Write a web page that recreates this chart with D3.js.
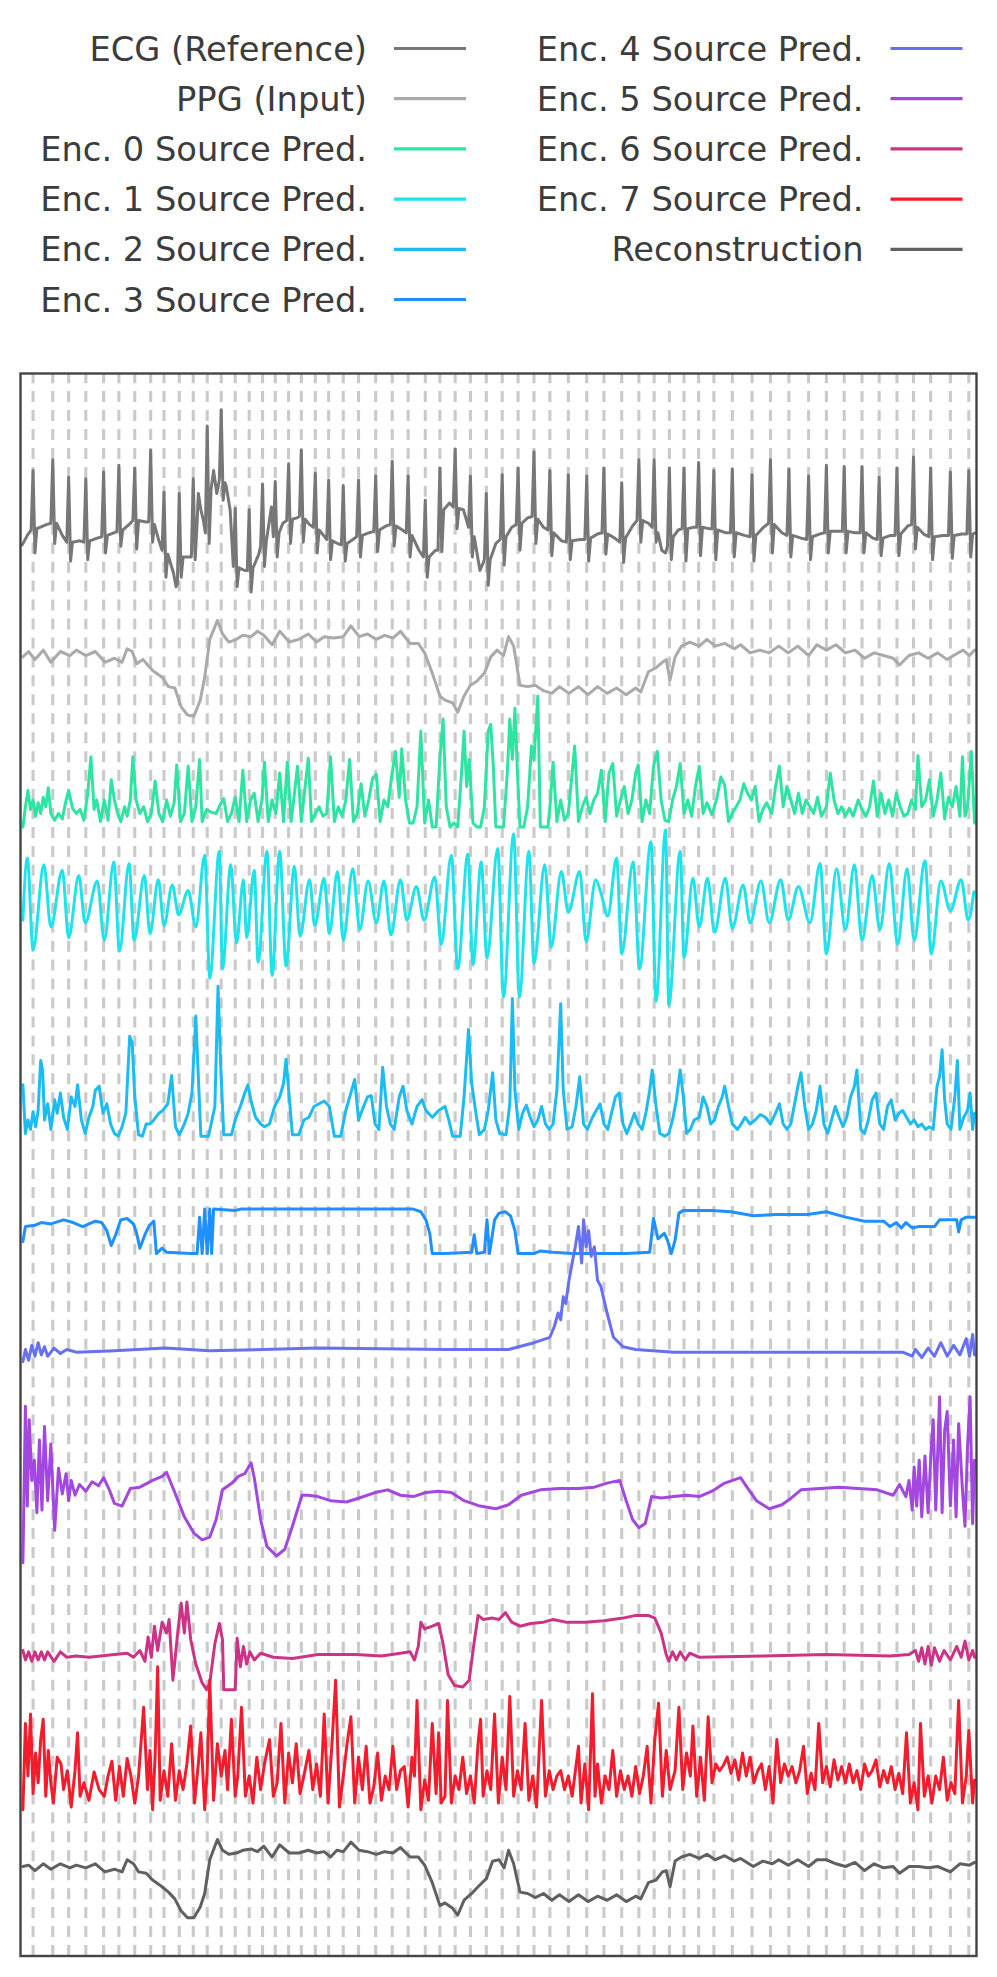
<!DOCTYPE html>
<html>
<head>
<meta charset="utf-8">
<script src="https://cdn.jsdelivr.net/npm/d3@7"></script>
<style>
  body { margin: 0; background: #fff; }
  text { font-family: "DejaVu Sans", sans-serif; }
</style>
</head>
<body>
<div id="chart"></div>
<script>
// samples at 50 Hz, 30 s window; values in normalised units, 100 units between traces
const labels = ["ECG (Reference)", "PPG (Input)", "Enc. 0 Source Pred.", "Enc. 1 Source Pred.",
  "Enc. 2 Source Pred.", "Enc. 3 Source Pred.", "Enc. 4 Source Pred.", "Enc. 5 Source Pred.",
  "Enc. 6 Source Pred.", "Enc. 7 Source Pred.", "Reconstruction"];
const colors = ["#777777", "#aaaaaa", "#2de5a0", "#1ee3ea", "#1cbcf2", "#1e90ff",
  "#6670f0", "#a347e1", "#cc3386", "#f31c2c", "#606060"];

// R-peak sample indices (dashed guides)
const rPeaks = [17, 48, 73, 100, 128, 152, 177, 202, 223, 247, 269, 291, 313, 335, 357, 378, 398, 419, 439, 461,
  482, 505, 529, 556, 582, 607, 634, 657, 681, 705, 730, 755, 780, 805, 830, 859, 888, 915, 943, 970, 994,
  1018, 1041, 1064, 1088, 1117, 1148, 1177, 1206, 1237, 1265, 1293, 1321, 1348, 1376, 1402, 1429, 1460, 1489];

const ecg = [[0,-11],[8,-4],
[14,0],[17,44],[20,-17],[23,1],[38,4],[45,5],[48,52],[51,-10],[54,5],
[63,-4],[70,-9],[73,39],[76,-23],[79,-9],[90,-8],[97,-9],[100,38],[103,-22],[106,-8],
[118,-6],[125,-5],[128,43],[131,-17],[134,-4],[145,-2],[149,-1],[152,48],[155,-12],[158,0],
[170,5],[174,7],[177,46],[180,-14],[183,7],[195,6],[199,6],[202,59],[205,-9],[208,4],
[215,-8],[220,-15],[223,28],[226,-35],[229,-18],[238,-32],[242,-42],[244,-40],[247,27],[250,-35],[253,-20],
[262,-20],[266,-20],[269,38],[272,-22],[275,5],[277,27],[281,15],[285,7],
[288,-2],[291,77],[294,-10],[297,30],[301,44],[306,27],
[310,37],[313,89],[316,22],[319,35],[321,32],[327,15],
[332,-27],[335,16],[338,-42],[341,-28],[350,-30],[354,-30],[357,15],[360,-46],[363,-28],[372,-18],
[375,-12],[378,34],[381,-27],[384,-8],[392,17],[395,-5],[398,36],[401,-20],[404,-2],[410,5],
[416,7],[419,49],[422,-10],[425,8],[432,9],[436,10],[439,59],[442,-9],[445,8],[452,4],
[458,2],[461,42],[464,-17],[467,0],[474,-4],[479,-7],[482,37],[485,-22],[488,-8],[496,-10],
[502,-11],[505,33],[508,-23],[511,-10],[520,-7],[526,-5],[529,37],[532,-20],[535,-4],[546,-2],
[553,-1],[556,40],[559,-16],[562,0],[572,3],[579,4],[582,51],[585,-12],[588,3],[598,0],
[604,-2],[607,40],[610,-20],[613,-4],[624,-15],[631,-20],[634,22],[637,-35],[640,-20],[650,-15],
[654,-15],[657,46],[660,-16],[663,15],[672,20],[678,17],[681,60],[684,1],[687,16],[694,15],
[702,2],[705,40],[708,-20],[711,-5],[720,-30],[727,-22],[730,27],[733,-41],[736,-22],[745,-10],
[752,-7],[755,41],[758,-26],[761,-5],[770,2],[777,4],[780,46],[783,-15],[786,5],[795,9],
[802,10],[805,58],[808,-10],[811,8],[820,2],[827,0],[830,44],[833,-19],[836,-2],[848,-8],
[856,-9],[859,41],[862,-22],[865,-8],[878,-7],[885,-7],[888,40],[891,-23],[894,-6],[905,-3],
[912,-2],[915,46],[918,-18],[921,-3],[932,-6],[940,-9],[943,35],[946,-24],[949,-6],[960,3],
[967,7],[970,52],[973,-9],[976,7],[985,5],[991,2],[994,52],[997,-9],[1000,-2],[1006,-15],[1012,-17],
[1015,-12],[1018,46],[1021,-22],[1024,-5],[1032,0],[1038,1],[1041,46],[1044,-23],[1047,1],[1056,2],
[1061,2],[1064,50],[1067,-19],[1070,2],[1080,1],[1085,1],[1088,44],[1091,-22],[1094,0],[1106,-2],
[1114,-2],[1117,45],[1120,-20],[1123,-2],[1136,-4],[1145,-5],[1148,41],[1151,-23],[1154,-4],[1166,2],
[1174,5],[1177,52],[1180,-17],[1183,4],[1195,-2],[1203,-4],[1206,45],[1209,-20],[1212,-4],[1225,-6],
[1234,-7],[1237,40],[1240,-22],[1243,-5],[1254,-3],[1262,-2],[1265,48],[1268,-17],[1271,-1],[1282,-1],
[1290,-1],[1293,47],[1296,-17],[1299,-1],[1310,-2],[1318,-2],[1321,47],[1324,-17],[1327,-2],[1338,-6],
[1345,-7],[1348,39],[1351,-19],[1354,-6],[1366,-4],[1373,-4],[1376,46],[1379,-19],[1382,-3],[1393,3],
[1399,4],[1402,54],[1405,-14],[1408,2],[1418,-3],[1426,-5],[1429,46],[1432,-22],[1435,-5],[1448,-4],
[1457,-4],[1460,43],[1463,-21],[1466,-4],[1478,-3],[1486,-3],[1489,44],[1492,-20],[1495,-3],[1500,-2]];

const ppg = [[1,6],[10,10],[20,4],[33,11],[45,2],[60,10],[75,7],[85,11],[100,7],[115,10],[130,2],[145,5],
[157,2],[165,12],[173,10],[180,1],[190,4],[205,-4],[220,-9],[230,-16],[240,-17],[250,-31],[260,-37],
[270,-38],[280,-26],[287,-9],[295,19],[307,33],[315,23],[325,17],[337,19],[347,22],[360,21],[370,25],
[380,22],[393,15],[405,25],[420,17],[435,19],[450,23],[463,17],[475,21],[490,20],[505,21],[517,29],
[530,21],[543,23],[557,19],[570,22],[583,20],[595,25],[610,16],[623,16],[633,9],[645,-6],[657,-23],
[665,-26],[677,-28],[685,-35],[695,-23],[705,-15],[715,-12],[727,-6],[737,6],[747,11],[757,7],[765,21],
[773,14],[783,-15],[795,-16],[807,-15],[820,-19],[833,-21],[845,-16],[860,-21],[875,-16],[890,-22],
[905,-16],[920,-21],[935,-17],[950,-22],[965,-17],[973,-20],[985,-5],[997,-2],[1007,2],[1013,4],
[1019,-11],[1027,6],[1037,14],[1050,17],[1065,14],[1077,19],[1090,14],[1105,16],[1120,12],[1130,15],
[1145,9],[1160,11],[1175,9],[1190,14],[1205,9],[1220,14],[1237,7],[1250,15],[1265,11],[1280,15],
[1295,9],[1310,11],[1325,5],[1340,9],[1355,7],[1370,5],[1380,0],[1395,7],[1410,9],[1425,5],[1440,9],
[1455,4],[1465,7],[1480,11],[1490,7],[1498,11]];

const enc0 = [[1,-20],[5,-5],[9,7],[13,-7],[17,0],[21,-12],[25,-2],[29,-10],[33,2],[37,-5],[41,9],[45,-10],
[51,-15],[57,-10],[63,-14],[69,0],[73,7],[79,-6],[85,-10],[91,-7],[97,-15],[103,5],[108,32],[113,-7],
[117,0],[123,-16],[129,0],[135,-15],[140,15],[145,0],[150,-10],[155,-16],[161,-5],[165,-12],[170,0],
[174,32],[179,0],[185,-10],[191,-5],[197,-16],[203,-10],[209,14],[215,-10],[221,-16],[227,0],[233,-12],
[239,-2],[243,26],[249,-16],[255,-10],[261,25],[267,-16],[273,-5],[279,30],[283,-16],[290,-7],[297,-9],
[305,-10],[313,-2],[317,1],[323,-16],[329,-10],[335,2],[341,-16],[347,22],[353,-16],[359,0],[365,5],
[371,-16],[377,0],[381,28],[387,-16],[393,0],[399,-10],[405,20],[411,-16],[417,28],[423,-16],[427,0],
[433,25],[439,-16],[445,10],[450,31],[455,-16],[461,-10],[467,-5],[473,-12],[479,-10],[485,32],[491,-16],
[497,-5],[503,-12],[509,0],[515,30],[521,-16],[527,-10],[533,12],[539,-12],[545,0],[551,16],[557,19],
[563,-16],[569,0],[575,-5],[581,17],[587,36],[593,2],[597,38],[603,0],[609,-17],[615,-17],[621,-5],
[627,51],[633,-17],[639,0],[645,-20],[651,-20],[657,31],[662,60],[667,-5],[673,-20],[679,-17],[685,-20],
[691,20],[695,51],[699,10],[703,30],[709,-17],[715,-20],[721,-20],[727,-5],[733,51],[737,56],[741,25],
[745,-20],[751,-20],[757,-20],[763,20],[767,60],[771,30],[775,68],[779,20],[783,-20],[789,-20],[795,-5],
[801,40],[805,30],[811,77],[815,-20],[821,-20],[827,-20],[831,0],[835,28],[841,-16],[847,0],[853,-15],
[859,-10],[863,10],[869,40],[875,-16],[881,-5],[887,2],[893,-10],[899,0],[905,5],[911,22],[917,-16],
[923,20],[929,27],[935,-12],[941,0],[947,10],[953,-10],[959,0],[965,20],[969,26],[975,-16],[981,0],
[987,-10],[993,25],[999,36],[1005,0],[1011,-15],[1017,-16],[1023,0],[1029,10],[1035,27],[1041,-10],
[1047,0],[1053,-12],[1059,10],[1065,25],[1071,-10],[1077,-2],[1085,-11],[1093,2],[1099,17],[1105,11],
[1111,-16],[1117,-10],[1123,-5],[1129,0],[1135,12],[1141,5],[1147,0],[1153,10],[1159,-16],[1165,-7],
[1171,-2],[1179,-10],[1185,10],[1191,25],[1197,-5],[1203,10],[1209,0],[1215,-10],[1221,5],[1227,-10],
[1233,0],[1239,-5],[1245,-10],[1251,2],[1257,-12],[1265,-5],[1271,20],[1277,0],[1283,-10],[1289,-5],
[1295,-12],[1301,-6],[1307,-12],[1315,0],[1321,-7],[1327,-12],[1333,-5],[1339,14],[1345,-12],[1351,5],
[1357,-10],[1363,0],[1369,-12],[1375,5],[1381,-5],[1387,-12],[1393,-10],[1399,0],[1405,-7],[1409,33],
[1415,-5],[1421,0],[1427,15],[1433,-12],[1439,0],[1445,20],[1451,-14],[1457,2],[1463,-5],[1469,10],
[1475,-12],[1479,32],[1483,-12],[1487,-5],[1493,36],[1498,-17]];

const enc1 = [[1,11],[8,57],[17,-11],[34,52],[45,6],[63,48],[73,-2],[89,44],[99,9],[118,40],[129,-4],
[144,54],[153,-12],[168,53],[176,-4],[192,44],[201,1],[214,41],[223,7],[236,37],[246,15],[261,33],
[273,6],[287,59],[295,-32],[310,62],[315,-25],[328,52],[337,-6],[348,41],[353,-2],[365,48],[371,-20],
[385,62],[393,-30],[405,62],[415,-23],[428,51],[437,-1],[452,41],[460,7],[475,42],[483,1],[496,47],
[505,-4],[520,49],[531,4],[544,40],[557,9],[569,40],[580,0],[595,41],[605,11],[620,36],[632,11],
[649,43],[659,-7],[675,59],[685,-25],[701,60],[709,-22],[722,54],[731,-17],[748,64],[757,-46],[773,75],
[782,-46],[797,62],[805,-21],[822,52],[832,-9],[848,47],[859,17],[877,47],[887,-5],[902,41],[911,30],
[921,14],[935,57],[943,-14],[961,54],[971,-25],[989,69],[997,-49],[1012,78],[1017,-52],[1035,62],
[1041,-17],[1055,42],[1065,6],[1078,42],[1089,2],[1106,42],[1117,5],[1134,37],[1145,9],[1162,40],
[1175,9],[1193,41],[1205,11],[1221,36],[1239,9],[1255,53],[1265,-14],[1281,49],[1295,4],[1309,52],
[1321,-4],[1337,44],[1349,4],[1364,53],[1377,-7],[1392,49],[1403,-4],[1420,55],[1430,-14],[1445,40],
[1460,18],[1477,41],[1488,11],[1497,32]];

const enc2 = [[1,-11],[5,-47],[9,-37],[13,-44],[17,-31],[21,-42],[25,-30],[29,7],[32,0],[35,-37],[40,-25],
[45,-44],[51,-22],[55,-32],[60,-17],[65,-35],[71,-44],[77,-20],[83,-27],[87,-11],[93,-37],[99,-47],
[105,-35],[111,-27],[115,-15],[121,-12],[127,-32],[133,-25],[139,-40],[145,-47],[151,-49],[157,-42],
[163,-32],[169,25],[173,20],[177,-20],[183,-48],[189,-49],[195,-40],[201,-40],[207,-37],[215,-32],
[221,-30],[229,-25],[235,-4],[241,-42],[247,-48],[255,-40],[261,-32],[267,-17],[273,40],[277,-5],
[281,-49],[293,-49],[303,-27],[308,62],[312,5],[317,-48],[329,-48],[335,-37],[343,-27],[350,-17],
[355,-11],[361,-25],[367,-35],[375,-40],[381,-42],[389,-40],[397,-27],[405,-20],[411,-10],[415,8],
[420,-20],[425,-48],[435,-48],[443,-37],[451,-35],[459,-27],[467,-25],[475,-23],[483,-27],[491,-49],
[501,-49],[509,-30],[517,-17],[523,-7],[529,-37],[537,-27],[543,-20],[549,-19],[555,-40],[561,-44],
[567,2],[573,-27],[579,-40],[585,-44],[593,-20],[599,-12],[605,-30],[613,-40],[621,-27],[629,-22],
[635,-30],[645,-35],[655,-30],[665,-27],[671,-37],[677,-49],[689,-49],[695,-20],[702,30],[707,-10],
[713,-30],[719,-48],[727,-44],[733,-30],[740,-2],[745,-37],[751,-47],[761,-48],[767,-25],[771,53],
[775,-15],[781,-44],[787,-32],[793,-26],[799,-35],[805,-42],[811,-37],[817,-27],[823,-40],[829,-44],
[835,-40],[841,-15],[847,49],[851,-15],[857,-44],[865,-42],[871,-27],[877,-5],[883,-40],[889,-44],
[897,-35],[903,-30],[909,-25],[915,-40],[921,-44],[927,-32],[933,-20],[939,-17],[945,-40],[951,-47],
[957,-40],[963,-32],[969,-40],[975,-44],[981,-32],[987,-15],[991,0],[997,-27],[1003,-47],[1011,-49],
[1017,-47],[1023,-37],[1029,-22],[1035,0],[1040,-20],[1045,-47],[1051,-44],[1057,-37],[1065,-35],
[1071,-20],[1077,-27],[1083,-40],[1089,-37],[1095,-27],[1101,-20],[1105,-12],[1111,-27],[1117,-40],
[1125,-44],[1131,-40],[1137,-35],[1145,-40],[1153,-37],[1161,-33],[1169,-35],[1177,-40],[1185,-32],
[1191,-25],[1197,-40],[1203,-44],[1209,-40],[1215,-25],[1221,-10],[1225,-2],[1231,-27],[1237,-44],
[1243,-40],[1249,-30],[1255,-12],[1261,-40],[1267,-47],[1273,-37],[1279,-27],[1285,-35],[1291,-42],
[1297,-35],[1303,-20],[1309,-12],[1313,0],[1319,-44],[1325,-47],[1331,-37],[1337,-22],[1343,-17],
[1349,-40],[1355,-44],[1361,-27],[1367,-22],[1373,-37],[1379,-32],[1385,-30],[1391,-35],[1397,-40],
[1403,-37],[1409,-42],[1415,-40],[1421,-44],[1427,-42],[1433,-44],[1439,-12],[1443,-5],[1447,15],
[1451,-22],[1455,-40],[1461,-44],[1467,-20],[1471,7],[1475,-44],[1481,-35],[1487,-30],[1491,-17],
[1495,-44],[1498,-32]];

const enc3 = [[1,-27],[5,-16],[20,-15],[30,-13],[45,-14],[65,-11],[80,-13],[95,-16],[115,-12],[125,-13],
[133,-19],[140,-30],[147,-22],[155,-11],[165,-10],[175,-14],[180,-21],[185,-32],[193,-22],[200,-15],
[207,-12],[211,-36],[220,-32],[227,-35],[265,-36],[275,-36],[279,-9],[283,-36],[287,-3],[291,-36],
[295,-3],[298,-36],[301,-3],[335,-4],[345,-3],[465,-3],[615,-3],[627,-5],[635,-11],[641,-21],[645,-36],
[665,-36],[707,-35],[711,-22],[715,-36],[727,-35],[731,-11],[735,-36],[743,-11],[750,-6],[760,-5],
[768,-8],[775,-19],[780,-36],[805,-36],[815,-34],[835,-35],[865,-36],[950,-36],[987,-35],[993,-10],
[1000,-25],[1010,-21],[1015,-26],[1021,-36],[1027,-26],[1033,-6],[1040,-4],[1085,-4],[1115,-5],
[1150,-8],[1185,-7],[1235,-7],[1265,-5],[1295,-9],[1325,-12],[1355,-12],[1365,-16],[1375,-13],
[1383,-17],[1390,-13],[1400,-17],[1410,-16],[1435,-16],[1443,-11],[1455,-11],[1470,-11],[1473,-20],
[1477,-11],[1485,-9],[1498,-9]];

const enc4 = [[1,-16],[5,-7],[10,-15],[15,-4],[20,-12],[25,-2],[30,-11],[35,-5],[40,-12],[50,-6],[60,-10],
[70,-7],[85,-9],[145,-8],[225,-6],[295,-8],[465,-6],[665,-7],[765,-7],[805,-2],[830,2],[837,10],[843,20],
[847,15],[851,32],[855,27],[860,44],[865,57],[870,69],[875,84],[880,57],[883,89],[887,69],[891,81],
[895,62],[900,69],[905,44],[910,40],[920,20],[930,2],[945,-5],[965,-7],[1025,-9],[1165,-9],[1385,-9],
[1400,-12],[1405,-7],[1415,-13],[1425,-6],[1435,-12],[1445,-2],[1455,-12],[1465,-4],[1475,-11],
[1485,1],[1490,-12],[1495,4],[1498,-11]];

const enc5 = [[1,-65],[5,51],[8,-23],[11,41],[15,-4],[19,11],[23,-28],[27,26],[31,-26],[35,36],[40,-19],
[45,23],[51,-41],[57,5],[63,-14],[69,1],[73,-19],[77,-4],[83,-15],[90,-7],[100,-12],[110,-5],[120,-8],
[128,-2],[137,-11],[145,-21],[157,-23],[170,-10],[185,-9],[205,-4],[220,-1],[227,2],[240,-13],[255,-31],
[270,-43],[283,-48],[295,-46],[305,-33],[315,-11],[330,-6],[340,-1],[350,1],[360,9],[365,-2],[375,-33],
[385,-53],[400,-60],[413,-55],[425,-38],[440,-15],[450,-15],[465,-16],[485,-19],[510,-20],[530,-17],
[555,-13],[575,-11],[595,-15],[615,-16],[635,-13],[655,-12],[675,-13],[695,-19],[720,-23],[745,-25],
[765,-22],[785,-15],[815,-11],[845,-10],[875,-10],[900,-9],[920,-6],[940,-4],[950,-19],[960,-33],
[970,-39],[980,-36],[990,-16],[1005,-17],[1025,-16],[1045,-15],[1065,-16],[1085,-12],[1105,-6],
[1130,-2],[1140,-9],[1155,-19],[1175,-25],[1195,-22],[1210,-17],[1225,-11],[1255,-10],[1285,-9],
[1315,-10],[1345,-11],[1370,-15],[1380,-7],[1390,-16],[1395,-4],[1400,-26],[1403,6],[1407,-23],
[1411,11],[1415,-31],[1420,14],[1425,-28],[1430,21],[1433,41],[1437,-26],[1443,58],[1447,-28],
[1451,33],[1455,47],[1460,-23],[1465,26],[1469,-31],[1473,38],[1479,-11],[1483,-38],[1487,21],
[1491,58],[1495,-36],[1498,11]];

const enc6 = [[1,-30],[5,-37],[10,-31],[15,-38],[20,-31],[25,-37],[30,-31],[35,-37],[40,-31],[50,-38],
[60,-31],[70,-35],[85,-34],[105,-35],[145,-33],[165,-32],[175,-35],[185,-30],[193,-38],[198,-20],
[203,-35],[208,-12],[213,-30],[220,-9],[227,-17],[231,-7],[237,-52],[245,-15],[250,5],[255,-17],
[259,6],[265,-22],[273,-40],[283,-54],[290,-59],[295,-54],[303,-25],[310,-10],[315,-22],[317,-59],
[335,-59],[338,-21],[343,-42],[348,-27],[353,-40],[358,-31],[365,-37],[375,-32],[395,-35],[425,-36],
[465,-33],[525,-33],[565,-34],[595,-32],[610,-31],[617,-37],[623,-27],[627,-9],[633,-14],[645,-12],
[655,-10],[662,-25],[670,-48],[680,-56],[693,-57],[703,-52],[710,-27],[717,-4],[725,-7],[740,-6],
[750,-7],[760,-2],[770,-9],[783,-12],[800,-10],[820,-9],[835,-7],[855,-9],[885,-9],[915,-8],[945,-6],
[965,-4],[985,-4],[995,-6],[1005,-17],[1013,-33],[1017,-38],[1023,-31],[1029,-37],[1035,-31],
[1043,-37],[1050,-32],[1065,-35],[1165,-34],[1265,-33],[1365,-34],[1395,-33],[1405,-30],[1410,-38],
[1415,-28],[1420,-40],[1425,-27],[1430,-41],[1435,-28],[1443,-38],[1450,-30],[1460,-37],[1470,-27],
[1477,-35],[1483,-23],[1489,-37],[1495,-30],[1498,-35]];

const enc7 = [[1,-48],[5,16],[9,-23],[13,23],[17,-36],[21,-6],[25,-28],[29,4],[33,19],[37,-38],[41,-4],
[45,-28],[49,-43],[55,-9],[61,-14],[65,-33],[71,-19],[77,-46],[83,-19],[87,9],[91,-38],[97,-28],
[105,-41],[113,-20],[121,-33],[129,-38],[135,-23],[141,-12],[147,-41],[153,-16],[159,-38],[165,-10],
[171,-23],[177,-43],[183,-23],[191,28],[197,-33],[201,-4],[205,-48],[209,-9],[213,58],[217,-41],
[223,-19],[229,-38],[235,1],[241,-41],[247,-19],[253,-33],[259,-14],[265,14],[271,-43],[277,-14],
[281,9],[287,-48],[291,-19],[295,48],[301,-41],[307,1],[313,-23],[319,-4],[323,-33],[329,19],[335,-38],
[339,-23],[345,28],[351,-38],[357,-23],[363,-43],[369,-9],[375,-33],[381,-14],[389,4],[395,-38],
[401,-28],[407,16],[413,-43],[419,-6],[425,-28],[431,1],[437,-36],[443,-23],[451,-4],[457,-33],
[463,-14],[469,-38],[475,23],[481,-43],[487,-1],[493,48],[499,-46],[505,-23],[511,1],[517,21],[523,-43],
[529,-9],[535,-33],[541,-1],[547,-43],[553,-31],[559,-6],[565,-41],[571,-23],[577,-33],[583,-1],
[589,-33],[595,-19],[601,-16],[607,-46],[613,-9],[617,-23],[621,33],[627,-48],[633,-26],[639,-41],
[645,16],[651,-36],[655,9],[659,-43],[665,-38],[669,33],[675,-43],[681,-23],[687,-33],[693,-9],
[699,-36],[705,-23],[711,-43],[717,1],[721,19],[725,-38],[731,-19],[737,-33],[743,23],[749,-43],
[755,-9],[761,-33],[767,36],[773,-38],[779,-19],[785,-33],[791,16],[797,-41],[803,-23],[809,-46],
[817,33],[823,-38],[829,-19],[835,-33],[841,-23],[847,-19],[853,-33],[859,-23],[865,-38],[871,-16],
[875,-1],[879,-43],[885,-14],[891,-48],[897,38],[901,-38],[905,-14],[911,-43],[917,-23],[923,-33],
[929,-4],[935,-38],[941,-19],[947,-33],[953,-23],[959,-38],[965,-16],[971,-36],[977,-23],[983,-1],
[989,-43],[995,4],[1001,31],[1007,-38],[1013,-4],[1019,-33],[1027,-19],[1033,28],[1039,-33],[1045,-6],
[1051,-23],[1055,14],[1061,-38],[1067,-9],[1073,-41],[1079,21],[1085,-28],[1091,-14],[1097,-19],
[1103,-15],[1109,-9],[1115,-21],[1121,-11],[1127,-26],[1133,-6],[1139,-23],[1145,-9],[1151,-28],
[1157,-19],[1163,-14],[1169,-33],[1175,-16],[1181,-43],[1187,4],[1193,-28],[1199,-14],[1205,-23],
[1211,-16],[1217,-28],[1223,-19],[1229,-1],[1235,-36],[1241,-21],[1247,-33],[1253,16],[1259,-28],
[1265,-16],[1271,-31],[1277,-11],[1283,-26],[1289,-16],[1295,-28],[1301,-14],[1307,-28],[1313,-19],
[1319,-33],[1325,-14],[1331,-23],[1337,-19],[1343,-11],[1349,-31],[1355,-19],[1361,-28],[1367,-16],
[1373,-33],[1379,-21],[1385,-36],[1391,9],[1397,-43],[1403,-28],[1409,-48],[1413,16],[1419,-38],
[1425,-23],[1431,-43],[1437,-23],[1443,-33],[1449,-9],[1455,-41],[1461,-28],[1467,-36],[1473,33],
[1479,-43],[1485,-23],[1489,11],[1495,-43],[1498,-26]];

const recon = [[1,10],[10,11],[20,7],[33,12],[45,8],[60,12],[75,9],[85,11],[100,9],[115,12],[130,6],[145,8],
[157,6],[165,15],[175,12],[183,6],[195,5],[205,0],[220,-5],[230,-9],[240,-14],[250,-23],[260,-28],
[270,-28],[280,-20],[287,-10],[295,15],[307,30],[315,22],[325,19],[337,20],[347,22],[360,23],[370,21],
[380,25],[393,17],[405,26],[420,20],[435,20],[450,22],[463,20],[475,21],[485,17],[495,22],[505,21],
[517,28],[530,22],[543,21],[557,19],[570,21],[583,20],[595,24],[610,17],[623,17],[633,11],[645,-2],
[657,-19],[665,-17],[677,-21],[685,-26],[695,-15],[707,-10],[717,-5],[730,1],[740,14],[750,15],[758,9],
[765,22],[773,12],[783,-9],[795,-10],[807,-13],[820,-10],[833,-15],[845,-11],[860,-16],[875,-11],
[890,-16],[905,-12],[920,-15],[935,-11],[950,-16],[965,-12],[973,-14],[985,-2],[997,0],[1007,6],
[1013,7],[1019,-5],[1027,14],[1037,17],[1050,19],[1065,16],[1077,19],[1090,15],[1105,18],[1120,14],
[1130,16],[1150,10],[1165,14],[1180,12],[1190,15],[1205,11],[1220,15],[1237,10],[1250,15],[1265,15],
[1280,12],[1295,10],[1310,13],[1325,7],[1340,12],[1355,9],[1370,10],[1380,5],[1395,10],[1410,10],
[1425,9],[1440,10],[1460,6],[1475,12],[1490,11],[1498,13]];

const traces = [ecg, ppg, enc0, enc1, enc2, enc3, enc4, enc5, enc6, enc7, recon];
const traceSpacing = 100;

const width = 997, height = 1977;
const plot = { left: 20.5, right: 976.5, top: 373.5, bottom: 1956 };

const svg = d3.select("#chart").append("svg")
  .attr("width", width)
  .attr("height", height)
  .style("background", "#fff");

const x = d3.scaleLinear().domain([0, 1500]).range([22.25, 975.8]);
const y = d3.scaleLinear().domain([-1056.3, 116.3]).range([1956, 373]);

svg.append("clipPath").attr("id", "plot-clip")
  .append("rect")
  .attr("x", plot.left).attr("y", plot.top)
  .attr("width", plot.right - plot.left).attr("height", plot.bottom - plot.top);

const g = svg.append("g").attr("clip-path", "url(#plot-clip)");

// dashed beat guides, drawn bottom-up like axvline
g.selectAll("line.guide")
  .data(rPeaks)
  .join("line")
  .attr("class", "guide")
  .attr("x1", d => x(d)).attr("x2", d => x(d))
  .attr("y1", plot.bottom).attr("y2", plot.top)
  .attr("stroke", "#cacaca")
  .attr("stroke-width", 3.1)
  .attr("stroke-dasharray", "11,7.95");

traces.forEach((data, i) => {
  const line = d3.line()
    .x(d => x(d[0]))
    .y(d => y(d[1] - traceSpacing * i));
  if (i === 3) line.curve(d3.curveMonotoneX);
  g.append("path")
    .datum(data)
    .attr("fill", "none")
    .attr("stroke", colors[i])
    .attr("stroke-width", 3)
    .attr("stroke-linejoin", "round")
    .attr("stroke-linecap", "round")
    .attr("d", line);
});

// frame
svg.append("rect")
  .attr("x", plot.left).attr("y", plot.top)
  .attr("width", plot.right - plot.left).attr("height", plot.bottom - plot.top)
  .attr("fill", "none")
  .attr("stroke", "#444")
  .attr("stroke-width", 2.4);

// legend, two columns filled top to bottom
const legend = svg.append("g");
const item = legend.selectAll("g.item")
  .data(labels)
  .join("g")
  .attr("class", "item")
  .attr("transform", (d, i) => {
    const col = i < 6 ? 0 : 1;
    const row = i < 6 ? i : i - 6;
    return `translate(${col === 0 ? 367 : 863.5},${48.5 + row * 50.2})`;
  });

item.append("text")
  .attr("x", 0)
  .attr("y", 12)
  .attr("text-anchor", "end")
  .attr("font-size", 33.7)
  .attr("fill", "#3c3c3c")
  .text(d => d);

item.append("line")
  .attr("x1", 27).attr("x2", 99)
  .attr("stroke", (d, i) => colors[i])
  .attr("stroke-width", 3.2);
</script>
</body>
</html>
